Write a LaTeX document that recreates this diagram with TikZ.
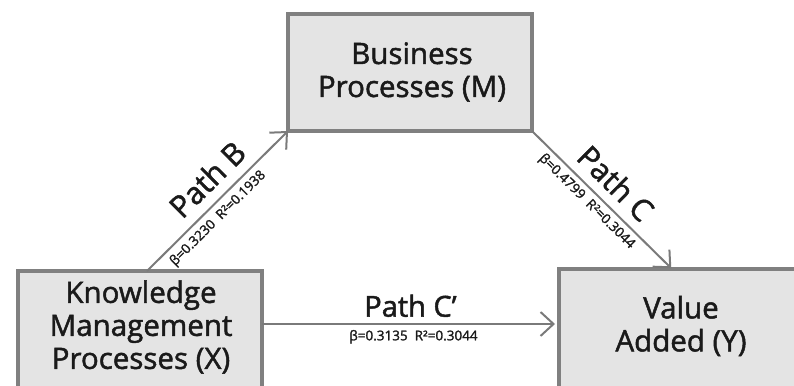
\documentclass[tikz,border=0pt]{standalone}
\usepackage{fontspec}
\setmainfont{Open Sans}[FakeBold=1.6]
\usetikzlibrary{arrows.meta,calc}
\definecolor{boxline}{HTML}{808080}
\definecolor{boxfill}{HTML}{E4E4E4}
\definecolor{arrowc}{HTML}{7A7A7A}
\definecolor{txt}{HTML}{1A1A1A}
\begin{document}
\begin{tikzpicture}[x=1pt,y=-1pt,
  box/.style={draw=boxline, fill=boxfill, line width=4pt, inner sep=0pt, outer sep=0pt},
  boxtext/.style={font=\fontsize{29.5}{33}\selectfont, align=center, text=txt, inner sep=0pt},
  conn/.style={draw=arrowc, line width=2pt, -{Straight Barb[length=13pt,width=24pt,line width=2pt]}},
  pathlbl/.style={font=\fontsize{30.5}{33}\selectfont, text=txt, inner sep=0pt, sloped},
  stat/.style={font=\fontsize{13.5}{15}\selectfont, text=txt, inner sep=0pt, sloped}]
\path[use as bounding box] (0,0) rectangle (794,385);
\clip (0,0) rectangle (794,385);
% boxes
\node[box, minimum width=244pt, minimum height=117pt] (M) at (410,72.5) {};
\node[box, minimum width=244pt, minimum height=149pt] (X) at (140,345.5) {};
\node[box, minimum width=261pt, minimum height=151pt] (Y) at (689.5,344.5) {};
% box texts
\node[boxtext] (Mt) at (412,72) {Business\\Processes (M)};
\node[boxtext] (Xt) at (141,327) {Knowledge\\Management\\Processes (X)};
\node[boxtext] (Yt) at (681,326) {Value\\Added (Y)};
% connection points
\coordinate (bstart) at ($(X.north)+(7,0)$);
\coordinate (cend) at ($(Y.north west)+(113,0)$);
\coordinate (cpstart) at ($(X.north east)+(0,53)$);
\coordinate (cpend) at (Y.west |- cpstart);
% connectors
\draw[conn] (bstart) -- (M.south west)
  node[pathlbl, pos=0.54, above=10pt] (pb) {Path B}
  node[stat, pos=0.44, below=5pt] (sb) {β=0.3230\ \ R²=0.1938};
\draw[conn, shorten >=1pt] (M.south east) -- (cend)
  node[pathlbl, pos=0.49, above=9pt] (pc) {Path C}
  node[stat, pos=0.45, below=4pt] (sc) {β=0.4799\ \ R²=0.3044};
\draw[conn, shorten >=4pt] (cpstart) -- (cpend)
  node[pathlbl, font=\fontsize{29}{30}\selectfont, pos=0.5, above=6pt] (pcp) {Path C’}
  node[stat, pos=0.51, below=5pt] (scp) {β=0.3135\ \ R²=0.3044};
\end{tikzpicture}
\end{document}
